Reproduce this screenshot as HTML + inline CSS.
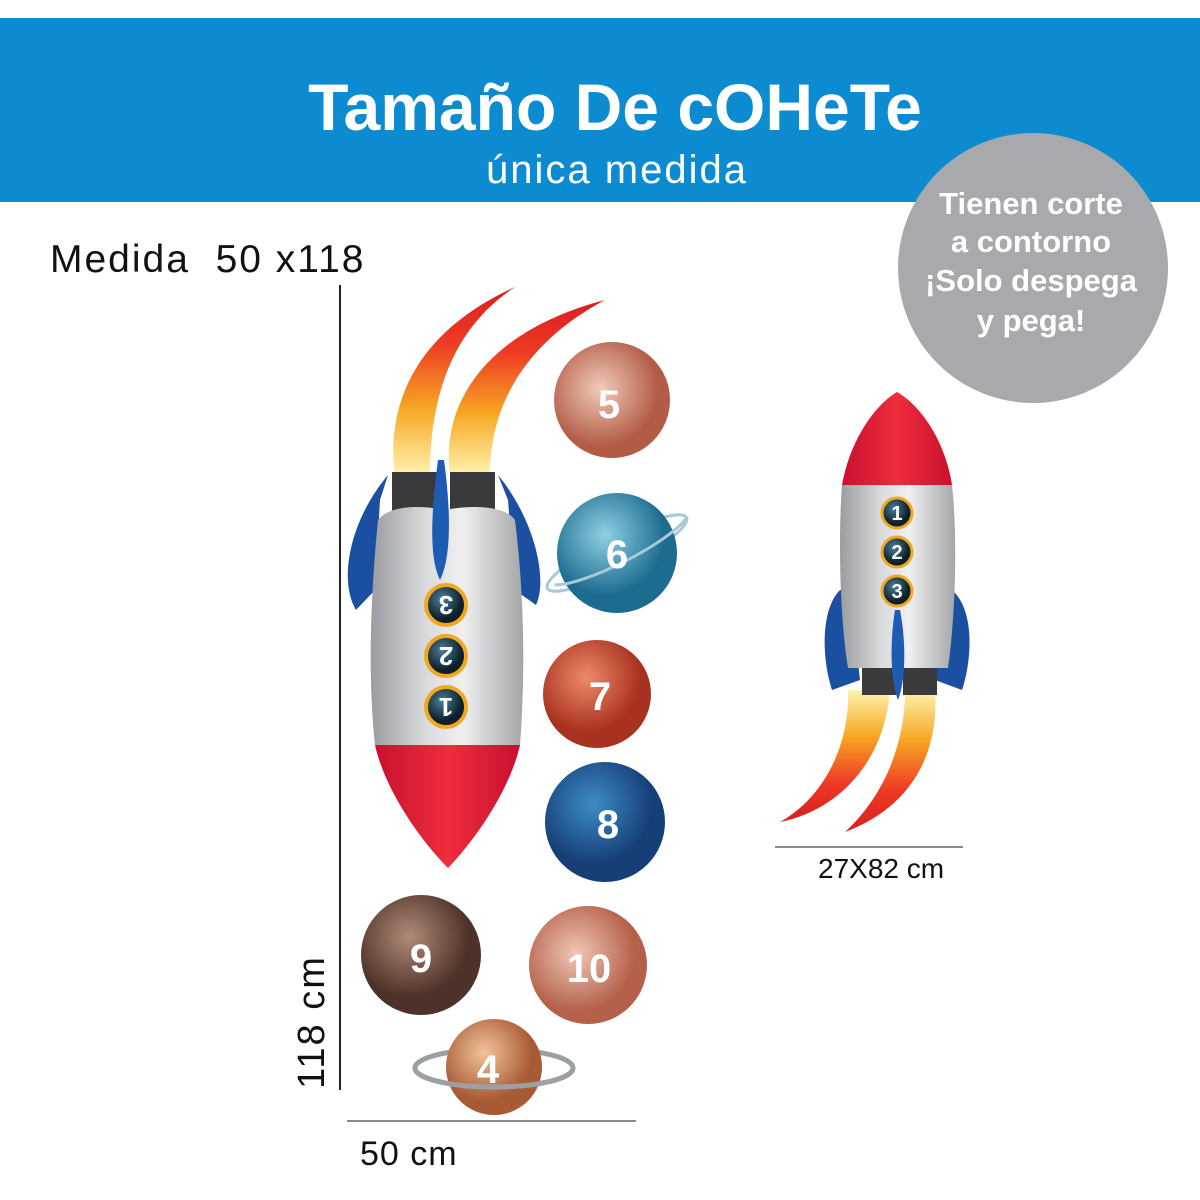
<!DOCTYPE html>
<html><head><meta charset="utf-8"><style>
html,body{margin:0;padding:0;background:#fff;width:1200px;height:1200px;overflow:hidden}
svg{display:block}
</style></head><body>
<svg width="1200" height="1200" viewBox="0 0 1200 1200" xmlns="http://www.w3.org/2000/svg" font-family="Liberation Sans, sans-serif">
<defs>
<linearGradient id="body" x1="0" x2="1"><stop offset="0" stop-color="#9a9ca0"/><stop offset="0.35" stop-color="#d8d9db"/><stop offset="0.6" stop-color="#f0f0f0"/><stop offset="1" stop-color="#a3a5a8"/></linearGradient>
<linearGradient id="red" x1="0" x2="1"><stop offset="0" stop-color="#c8102e"/><stop offset="0.5" stop-color="#ee2d3c"/><stop offset="1" stop-color="#c8102e"/></linearGradient>
<linearGradient id="flame" x1="0" y1="1" x2="0" y2="0"><stop offset="0" stop-color="#fff3b0"/><stop offset="0.35" stop-color="#f7a823"/><stop offset="0.7" stop-color="#ee3b24"/><stop offset="1" stop-color="#d81e1e"/></linearGradient>
<linearGradient id="flame2" x1="0" y1="0" x2="0" y2="1"><stop offset="0" stop-color="#fff3b0"/><stop offset="0.35" stop-color="#f7a823"/><stop offset="0.7" stop-color="#ee3b24"/><stop offset="1" stop-color="#d81e1e"/></linearGradient>
<radialGradient id="p5" cx="0.4" cy="0.4"><stop offset="0" stop-color="#f1cbb9"/><stop offset="1" stop-color="#b25c46"/></radialGradient>
<radialGradient id="p6" cx="0.4" cy="0.35"><stop offset="0" stop-color="#8fd0e4"/><stop offset="1" stop-color="#1c6c8f"/></radialGradient>
<radialGradient id="p7" cx="0.4" cy="0.35"><stop offset="0" stop-color="#ee8a6b"/><stop offset="1" stop-color="#a8321f"/></radialGradient>
<radialGradient id="p8" cx="0.4" cy="0.35"><stop offset="0" stop-color="#3d8cc6"/><stop offset="1" stop-color="#163e77"/></radialGradient>
<radialGradient id="p9" cx="0.4" cy="0.35"><stop offset="0" stop-color="#b08b78"/><stop offset="1" stop-color="#4e3128"/></radialGradient>
<radialGradient id="p10" cx="0.4" cy="0.4"><stop offset="0" stop-color="#f0c7b5"/><stop offset="1" stop-color="#b4604a"/></radialGradient>
<radialGradient id="p4" cx="0.4" cy="0.35"><stop offset="0" stop-color="#f2c49a"/><stop offset="1" stop-color="#a85a35"/></radialGradient>
<radialGradient id="win" cx="0.4" cy="0.35"><stop offset="0" stop-color="#4a7f95"/><stop offset="1" stop-color="#0d1f2a"/></radialGradient>
</defs>

<rect x="0" y="18" width="1200" height="184" fill="#0c8bd0"/>
<text x="615" y="130" text-anchor="middle" fill="#fff" font-size="66" font-weight="bold">Tamaño De cOHeTe</text>
<text x="617" y="183" text-anchor="middle" fill="#fff" font-size="40" letter-spacing="2">única medida</text>

<circle cx="1033" cy="268" r="135" fill="#a7a9ac"/>
<g fill="#fff" font-size="31" font-weight="bold" text-anchor="middle">
<text x="1031" y="214">Tienen corte</text>
<text x="1031" y="252">a contorno</text>
<text x="1031" y="291">¡Solo despega</text>
<text x="1031" y="331">y pega!</text>
</g>

<text x="50" y="272" font-size="39" fill="#111" letter-spacing="2" xml:space="preserve">Medida  50 x118</text>

<line x1="340" y1="285" x2="340" y2="1090" stroke="#222" stroke-width="2"/>
<text transform="translate(324,1022) rotate(-90)" text-anchor="middle" font-size="38" fill="#111" letter-spacing="2">118 cm</text>
<line x1="347" y1="1121" x2="636" y2="1121" stroke="#444" stroke-width="1.2"/>
<text x="360" y="1165" font-size="34" fill="#111" letter-spacing="1">50 cm</text>
<line x1="775" y1="847" x2="963" y2="847" stroke="#444" stroke-width="1.2"/>
<text x="818" y="878" font-size="28" fill="#111">27X82 cm</text>

<path d="M395 475 C385 400 420 330 515 287 C450 330 430 400 430 475 Z" fill="url(#flame)"/>
<path d="M450 475 C440 400 490 330 605 300 C530 340 490 400 490 475 Z" fill="url(#flame)"/>
<path d="M388 475 C350 520 338 580 356 610 L375 590 L380 500 Z" fill="#1b4fa0"/>
<path d="M498 475 C535 520 548 580 536 605 L515 590 L508 500 Z" fill="#1b4fa0"/>
<rect x="392" y="472" width="45" height="40" fill="#3a3a3c"/>
<rect x="450" y="472" width="45" height="40" fill="#3a3a3c"/>
<path d="M378 520 C390 505 420 505 445 510 C470 505 505 505 515 520 C525 600 525 680 520 745 L375 745 C368 680 370 600 378 520 Z" fill="url(#body)"/>
<path d="M375 745 L520 745 C510 790 475 840 448 868 C420 840 385 790 375 745 Z" fill="url(#red)"/>
<path d="M438 460 C430 520 430 560 440 580 C450 560 452 520 444 460 Z" fill="#1e5cb3"/>
<g stroke="#f0a820" stroke-width="4" fill="url(#win)">
<circle cx="446" cy="605" r="20"/><circle cx="446" cy="656" r="20"/><circle cx="446" cy="707" r="20"/>
</g>
<g fill="#fff" font-size="26" font-weight="bold" text-anchor="middle">
<text transform="translate(446,605) rotate(180)" y="9">3</text>
<text transform="translate(446,656) rotate(180)" y="9">2</text>
<text transform="translate(446,707) rotate(180)" y="9">1</text>
</g>

<circle cx="612" cy="400" r="58" fill="url(#p5)"/>
<ellipse cx="617" cy="553" rx="78" ry="16" fill="none" stroke="#a9c9d6" stroke-width="3" transform="rotate(-27 617 553)"/>
<circle cx="617" cy="553" r="60" fill="url(#p6)"/>
<path d="M547 553 A78 16 0 0 0 695 553" fill="none" stroke="#a9c9d6" stroke-width="3" transform="rotate(-27 617 553)"/>
<circle cx="597" cy="694" r="54" fill="url(#p7)"/>
<circle cx="605" cy="822" r="60" fill="url(#p8)"/>
<circle cx="421" cy="955" r="60" fill="url(#p9)"/>
<circle cx="588" cy="965" r="59" fill="url(#p10)"/>
<ellipse cx="494" cy="1068" rx="79" ry="19" fill="none" stroke="#9aa0a3" stroke-width="5"/>
<circle cx="494" cy="1067" r="48" fill="url(#p4)"/>
<path d="M415 1068 A79 19 0 0 0 573 1068" fill="none" stroke="#9aa0a3" stroke-width="5"/>
<g fill="#fff" font-size="40" font-weight="bold" text-anchor="middle">
<text x="609" y="418">5</text>
<text x="617" y="568">6</text>
<text x="600" y="710">7</text>
<text x="608" y="838">8</text>
<text x="421" y="972">9</text>
<text x="589" y="982">10</text>
<text x="488" y="1083">4</text>
</g>

<path d="M848 690 C850 750 820 800 780 822 C840 810 885 760 890 690 Z" fill="url(#flame2)"/>
<path d="M905 690 C905 750 880 800 845 832 C905 810 940 760 935 690 Z" fill="url(#flame2)"/>
<path d="M840 590 C820 610 822 660 832 690 L860 680 L850 590 Z" fill="#1b4fa0"/>
<path d="M952 590 C975 610 972 660 962 690 L935 680 L945 590 Z" fill="#1b4fa0"/>
<rect x="862" y="660" width="34" height="35" fill="#3a3a3c"/>
<rect x="903" y="660" width="34" height="35" fill="#3a3a3c"/>
<path d="M842 485 L952 485 C958 540 955 620 948 668 L848 668 C840 620 838 540 842 485 Z" fill="url(#body)"/>
<path d="M842 485 C850 440 875 405 897 392 C920 405 945 440 952 485 Z" fill="url(#red)"/>
<path d="M895 610 C890 640 890 680 898 700 C906 680 906 640 900 610 Z" fill="#1e5cb3"/>
<g stroke="#f0a820" stroke-width="3" fill="url(#win)">
<circle cx="897" cy="513" r="15"/><circle cx="897" cy="552" r="15"/><circle cx="897" cy="591" r="15"/>
</g>
<g fill="#fff" font-size="20" font-weight="bold" text-anchor="middle">
<text x="897" y="520">1</text><text x="897" y="559">2</text><text x="897" y="598">3</text>
</g>
</svg>
</body></html>
